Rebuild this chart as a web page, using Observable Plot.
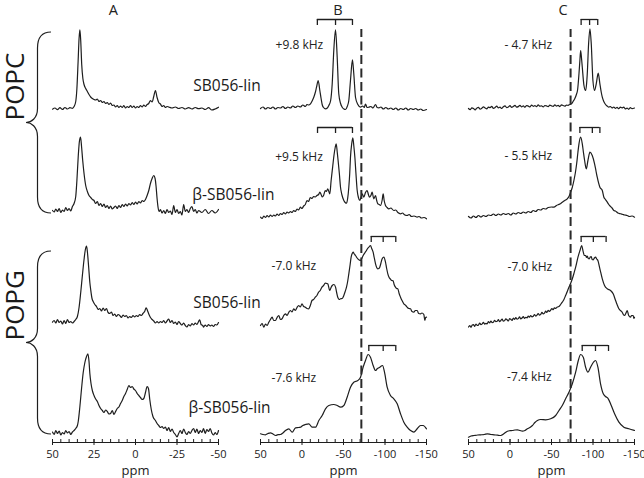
<!DOCTYPE html>
<html><head><meta charset="utf-8">
<script src="https://cdn.jsdelivr.net/npm/d3@7"></script>
<script src="https://cdn.jsdelivr.net/npm/@observablehq/plot@0.6"></script>
<style>
body{margin:0;background:#fff;}
#fig{position:relative;width:644px;height:478px;font-family:"Open Sans",sans-serif;}
#fig svg{position:absolute;top:0;}
</style></head><body><div id="fig"></div>
<script>
// ---------------- DATA ----------------
const panelTitles = ["A", "B", "C"];
const lipids = ["POPC", "POPG"];
const samples = ["SB056-lin", "β-SB056-lin", "SB056-lin", "β-SB056-lin"];
const splitB = ["+9.8 kHz", "+9.5 kHz", "-7.0 kHz", "-7.6 kHz"];
const splitC = ["- 4.7 kHz", "- 5.5 kHz", "-7.0 kHz", "-7.4 kHz"];
const ticksA = [50, 25, 0, -25, -50];
const ticksBC = [50, 0, -50, -100, -150];
const refPpmB = -71.5;
const refPpmC = -73;
const bracketB = [[-18.5, -40.4, -60.8], [-18.7, -40.4, -60.8], [-83.4, -97.8, -113], [-80.5, -97.8, -113]];
const bracketC = [[-85.7, -95.9, -105.7], [-84.2, -99.2, -108.3], [-85.7, -100.4, -115.8], [-87, -103, -118.7]];

// spectra: [ppm, intensity]
const specA_POPC_SB = [[50,1.3],[48.5,2.5],[47,0.8],[45.5,2.8],[44,1],[42.5,3],[41,1.5],[39.5,2.8],[38,2.2],[37,4],[36,9],[35.3,22],[34.6,48],[34,72],[33.5,80.7],[33,70],[32.4,46],[31.7,32],[31,26],[30,22],[29,19],[28,16],[27,13.5],[26,12],[25,11],[24,10.5],[23,11.5],[22,9],[21,10],[20,8],[19,9],[18,7],[17,8],[16,6],[15,7.5],[14,5],[13,5.5],[12,3.5],[11,5],[10,3],[9,4.5],[8,3],[7,5],[6,2.5],[5,4],[4,3],[3,5],[2,3],[1,4.5],[0,2.5],[-1,4],[-2,3],[-3,5],[-4,3.5],[-5,5.5],[-6,4],[-7,6],[-8,7],[-9,10],[-10,8.5],[-11,14],[-12,20],[-13,13],[-14,8],[-15,6.5],[-16,4],[-17,5],[-18,3],[-19,4],[-20,3.5],[-22,2.5],[-24,3.5],[-26,2],[-28,3],[-30,1.5],[-32,2.8],[-34,1.5],[-36,3],[-38,1.8],[-40,2.5],[-42,1],[-44,2.8],[-46,0.5],[-48,1.5],[-50,3.3]];
const specA_POPC_bSB = [[50,8],[49,6.5],[48,9.5],[47,7],[46,10],[45,6],[44,8.5],[43,7],[42,11],[41,8],[40,10],[39,7.5],[38,12],[37,15],[36,22],[35.3,38],[34.5,62],[33.8,77],[33.1,81.3],[32.5,72],[31.8,58],[31,45],[30,33],[29,27],[28,23],[27,21],[26,19],[25,18],[24,15],[23,17],[22,13],[21,15],[20,12],[19,14.5],[18,11],[17,13],[16,10],[15,12.5],[14,9.5],[13,11],[12,12.5],[11,10],[10,13],[9,11],[8,14],[7,12],[6,14.5],[5,12.5],[4,15],[3,13.5],[2,16],[1,14],[0,16.5],[-1,14.5],[-2,17],[-3,15.5],[-4,18],[-5,17],[-6,19],[-7,23],[-8,28],[-9,35],[-10,40],[-11,43],[-11.8,40],[-12.4,32],[-13,20],[-13.6,11],[-14.3,7],[-15,9],[-16,5.5],[-17,8],[-18,5],[-19,9],[-20,6],[-21,7.5],[-22,4],[-23,13],[-24,6],[-25,9],[-26,5],[-27,7],[-28,3.5],[-29,14],[-30,7],[-31,9],[-32,6],[-33,10],[-34,12],[-35,7],[-36,9],[-37,5.5],[-38,8],[-40,6],[-42,9],[-44,5],[-46,8],[-48,5.5],[-50,9]];
const specA_POPG_SB = [[50,5.3],[49,7],[48,4.5],[47,8],[46,5],[45,6.5],[44,3.5],[43,7],[42,4],[41,8],[40,5],[39,6],[38,4.5],[37,6],[36,8],[35,11],[34,20],[33,35],[32,52],[31,68],[30.2,78],[29.5,81.3],[29,76],[28.2,60],[27.5,45],[27,38],[26.2,29],[25.5,26],[24.5,23],[23.5,21],[22.5,18],[21.5,19],[20.5,16.5],[19.5,19.5],[18.5,17],[17.5,19],[16.5,15],[15.5,14],[14.5,15.5],[13.5,12],[12.5,13.5],[11.5,11],[10.5,13],[9.5,12],[8.5,10],[7.5,12.5],[6.5,11],[5.5,12],[4.5,9.5],[3.5,11],[2.5,10],[1.5,12],[0.5,10.5],[-0.5,12],[-1.5,11],[-2.5,13],[-3.5,12],[-4.5,14],[-5.5,16],[-6.4,19.7],[-7.2,17],[-8,13.5],[-9,10],[-10,8],[-11,6.5],[-12,4.5],[-13,6],[-14,4.5],[-15,6],[-16,5],[-17,7],[-18,4.5],[-19,6.5],[-20,8.5],[-21,5],[-22,7],[-23,4],[-24,5.5],[-25,3],[-26,6],[-27,4],[-28,2.5],[-29,4.5],[-30,2],[-31,0.5],[-32,3],[-33,1.5],[-34,4],[-35,2.5],[-36,4.5],[-37,3],[-38,6],[-38.7,7.7],[-39.5,3],[-40.5,2],[-41,0.3],[-42,2.5],[-43,1],[-44,3],[-45,1.5],[-46,2.5],[-47,1],[-48,3],[-49,2.5],[-50,5]];
const specA_POPG_bSB = [[50,4.5],[49,2],[48,6],[47,3],[46,5.5],[45,1.5],[44,4],[43,2.5],[42,6],[41,3.5],[40,5],[39,2],[38,4.5],[37,6],[36,8],[35,11],[34.5,15],[33.5,30],[32.5,48],[31.5,64],[30.5,74],[29.5,80],[28.7,82.7],[28,75],[27.5,63],[26.8,53],[26,46],[25,41],[24,37.5],[23,35],[22,31],[21,28],[20,26],[19,24],[18,26.5],[17,25],[16,22.5],[15,23],[14,26],[13,22],[12,25],[11,28],[10,29.5],[9,33],[8,36],[7,40],[6,43],[5,47],[4,51],[3,49],[2,50],[1,47.5],[0,46],[-1,43],[-2,41],[-3,39],[-4,37],[-5,38],[-6,44],[-7,50],[-7.8,48],[-8.6,37],[-9.5,27],[-10.5,20],[-12,16],[-13,13],[-14,11],[-15,9],[-16,10],[-17,8],[-18,9.5],[-19,6],[-20,9],[-21,5],[-22,7.5],[-23,4],[-24,2],[-25,-0.5],[-26,3],[-27,6],[-28,3],[-29,7.5],[-30,4],[-31,2],[-32,5],[-33,3],[-34,6],[-35,8],[-36,4],[-37,7.5],[-38,3],[-39,6],[-40,4],[-41,8],[-42,3],[-43,7],[-44,5],[-45,8],[-46,3.5],[-47,1.5],[-48,4],[-49,2],[-50,6]];

const specB_POPC_SB = [[50,2],[47,3.5],[44,1.5],[41,3],[38,2],[35,3.5],[32,1.5],[29,3],[26,2.5],[23,4],[20,2],[17,3.5],[14,2.5],[11,4.5],[8,3],[5,4.5],[2,3.5],[-1,5.5],[-4,4],[-6,6],[-8,5.5],[-10.2,6.7],[-12.5,10],[-14.2,13.3],[-16,18],[-17.5,23.3],[-19.5,30],[-21.5,20],[-23,12],[-24.3,6],[-26,3],[-28.3,1.7],[-30.5,2.5],[-32.3,5],[-34.5,10],[-36.4,26.7],[-38.3,60],[-40.4,80.7],[-42.4,53.3],[-44.3,16.7],[-46.5,7],[-48.4,3.3],[-50.5,1.5],[-52.4,1],[-54.5,4],[-56.4,10],[-58.4,30],[-60.8,50.7],[-62.4,36.7],[-64.5,13],[-67.3,6],[-70.5,3.3],[-73,4.5],[-75,3],[-76.5,6.5],[-78.5,3],[-80.5,3.3],[-83,4],[-85.5,2.5],[-88.6,6],[-90.5,3],[-92.6,2.7],[-95,3.5],[-98,1.5],[-101,3],[-104,1.5],[-107,2.5],[-110,1],[-113,2.5],[-116,0.5],[-119,2],[-122,1],[-125,2.5],[-128,0.5],[-131,2],[-134,1],[-137,2],[-140,0.5],[-143,1.5],[-146,0],[-150,1]];
const specB_POPC_bSB = [[50,1.3],[48,0],[46,2.5],[44,1],[42,3],[40,1.5],[38,3.5],[36,2],[34,3.5],[32,2.5],[30,4.5],[28,3],[26,5],[24,4],[22,6],[20,4.5],[18,6.5],[16,5.5],[14,7],[12,6],[10,8],[8,7],[6,9.5],[4,8.5],[2,11.3],[0,10],[-2,12.5],[-4,14],[-6,18],[-8,17],[-10,21],[-12,20],[-14,22],[-16,21.5],[-18,23],[-20,24],[-21.5,26.3],[-23,24],[-24.5,21.5],[-26,23],[-28,28],[-29.5,27],[-31,29.7],[-33.5,24.7],[-35.1,38],[-37,52],[-38.5,63],[-40,71],[-41.2,74.7],[-42.5,66],[-43.5,58],[-45,45],[-46.4,31.3],[-48,24],[-50.4,18],[-52,16],[-53.6,15.3],[-55,20],[-56.4,31.3],[-57.5,45],[-58.4,61.3],[-59.8,74],[-61.2,80.7],[-62.5,72],[-63.7,61.3],[-65,45],[-66.5,28],[-68,21],[-69.7,18],[-71,21],[-72.5,24.7],[-74.5,21.3],[-76.5,26],[-78.5,28],[-80,24],[-81.3,21.3],[-83,23],[-84.5,26.3],[-86.5,19.7],[-88.6,23],[-90,18],[-91.3,14.7],[-93,14],[-94.6,13],[-96.5,18],[-97.8,24.7],[-99,18],[-100.6,13],[-102.5,11],[-104.6,9.7],[-107,10.5],[-110.6,8],[-113,8.5],[-115.5,6],[-118.7,4.7],[-121,5.5],[-124,3.5],[-126.7,3],[-129,4],[-132,2],[-135,2.5],[-138.8,1.3],[-141,2],[-144,0.5],[-147,1],[-150,-0.3]];
const specB_POPG_SB = [[50,2],[48,4],[46,0.3],[44,3.5],[42,2],[40,5.3],[38,8],[36,10.3],[34,7],[32,7],[30,10],[28,12],[26,8],[24,8.7],[22,12],[20,13.7],[18,12],[16,15],[14,17],[12,15.5],[10,18.7],[8,17],[6,20],[4,22],[2,20.5],[0,23.7],[-2,21],[-4,20.3],[-6,19],[-8,18.7],[-10,22],[-12,27],[-14,28],[-16,30.3],[-18,32],[-20,35.3],[-22,37],[-24,40.3],[-26,42],[-28,44.3],[-30,44],[-31,43.7],[-33.5,37],[-35,40],[-36.4,42],[-38.5,43],[-40.4,40.3],[-42,34],[-43.2,30],[-45,28],[-46.4,28.7],[-48.5,29],[-50.4,32],[-52,36],[-53.6,40.3],[-55,46],[-56.4,53.7],[-58,63],[-59.2,70.3],[-60.5,74],[-61.6,75.3],[-63,73.5],[-64.5,72],[-66,70],[-67.3,68.7],[-69,67.5],[-70.5,67],[-72,69],[-73.7,72],[-76,75],[-77.7,77],[-79,79],[-80.5,80.3],[-82.5,82],[-84,79],[-85.7,75.3],[-87,70],[-88.6,63.7],[-90,60],[-91.3,58.7],[-92.5,59],[-93.7,60.3],[-95,64],[-96.6,68.7],[-98.6,70.3],[-100.6,65.3],[-102,59],[-103.4,53.7],[-105,50],[-106.6,48.3],[-108,47],[-109.8,46.7],[-111,43],[-112.6,40.3],[-114,39],[-115.4,38.7],[-117,34],[-118.7,30.3],[-120.5,27],[-122.7,23.7],[-125,22],[-126.7,20.3],[-128.5,19],[-130.7,18.7],[-132.5,16],[-134.7,15.3],[-136.5,17],[-138.8,17],[-140.5,14],[-142.8,13.7],[-144.5,14.5],[-146.8,13],[-148,7],[-149,10],[-150,10.3]];
const specB_POPG_bSB = [[50,2.7],[47,2],[44,1.7],[41,3],[38,3.7],[35,2.5],[31.9,1],[29,1.8],[25.9,2],[23,3.5],[19.9,6],[15.9,7.7],[11.8,4.3],[7.8,8.7],[4,9],[1.8,9.3],[-1,11],[-4.2,12],[-8.2,12.7],[-12.2,9.3],[-16.3,9.3],[-20.3,16],[-24.3,21],[-28.3,27.7],[-32.3,31],[-38.3,32],[-42.4,31],[-46.4,29.3],[-50.4,31],[-54.4,39.3],[-58.4,49.3],[-62.4,54.3],[-67.3,56],[-70.5,59.3],[-73.7,69.3],[-76.5,76],[-79.7,82],[-82.5,79.3],[-85.7,71],[-88.6,66],[-90.6,67.7],[-93.7,69.3],[-97,71],[-99.4,64.3],[-102.6,49.3],[-106.6,41],[-110.6,37.7],[-114.7,32.7],[-118.7,22.7],[-122.7,14.3],[-126.7,9.3],[-130.7,6],[-134.7,4.3],[-138.8,7.7],[-142.8,11],[-146,11],[-150,7.7]];

const specC_POPC_SB = [[50,2],[48,0.8],[46,2.6],[44,2.1],[42,0.6],[40,2.4],[38,3.2],[36,1.4],[34,2.2],[32,3.6],[30,2.5],[28,1.6],[26,3.4],[24,2.9],[22,4.1],[20,2.2],[18,3],[16,4.4],[14,2.6],[12,3.3],[10,2],[8,3.8],[6,4.6],[4,2.9],[2,3.5],[0,4.8],[-2,3.1],[-4,4],[-6,5.2],[-8,3.4],[-10,3.9],[-12,5.1],[-14,3.7],[-16,4.6],[-18,3.3],[-20,5],[-22,4.4],[-24,3.6],[-26,5.4],[-28,4.2],[-30,4.9],[-32,3.8],[-34,5.6],[-36,4.3],[-38,4.7],[-40,3.5],[-42,5],[-44,4.6],[-46,3.9],[-48,5.4],[-50,4.6],[-52,4.1],[-54,5.7],[-56,4.4],[-58,5.1],[-60,3.9],[-62,5.6],[-64,5],[-66,4.3],[-68,5.3],[-70,5.2],[-72,6],[-74,6.7],[-76,9],[-78,11.7],[-80,16],[-81.5,21],[-83.1,36.7],[-84.2,50],[-85.1,60],[-86.2,52],[-87.1,43.3],[-89.1,25],[-91.1,20],[-92.2,26],[-93.1,36.7],[-94.7,66.7],[-96.3,81.7],[-97.9,66.7],[-99.9,30],[-101.9,20],[-103.9,26.7],[-106.3,37.3],[-108.3,26.7],[-110,18],[-111.2,13.3],[-113,9],[-115.1,6],[-117,4.5],[-119.1,3.3],[-121,4],[-123,2.5],[-125,3.5],[-127,2.2],[-129,3.1],[-131,1.8],[-133,3.3],[-135,2.6],[-137,3.4],[-139,1.5],[-141,2.4],[-143,1.2],[-145,2.8],[-147,1.9],[-150,2.5]];
const specC_POPC_bSB = [[50,2],[47,0.5],[44,2.5],[41,1],[38,3],[35,1.5],[32,3],[29,2],[26,3.5],[23,3],[20,4.5],[17,3],[14,4.5],[11,3.5],[8,5],[5,4],[2,5],[-1,3.5],[-4,5.5],[-7,4.5],[-10,6],[-13,5],[-16,6.5],[-19,5.5],[-22,7],[-25,6],[-28,8],[-31,7],[-34,9],[-37,8.5],[-40,10],[-43,9.5],[-46,11],[-50,11.5],[-53,11.3],[-56,13],[-60,14.5],[-63,16.3],[-66,18],[-69,19.7],[-71,22],[-73,26.3],[-75,31],[-77,38],[-78.8,46],[-80.3,54.7],[-81.8,66],[-83.1,74.7],[-85.1,81.3],[-87.1,74.7],[-88.5,66],[-89.9,58],[-91.9,49.7],[-93.9,58],[-96.3,66.3],[-99.1,63],[-101.9,54.7],[-103.5,48],[-105.1,41.3],[-108.3,31.3],[-111.2,28],[-113.1,21.3],[-115,19],[-117.2,16.3],[-119,14],[-121.1,12],[-123,10.5],[-125.1,8],[-127,7.5],[-130,5.5],[-133.2,4.7],[-136,4],[-138,3.5],[-141.2,3],[-144,2],[-147,2.5],[-150,1.3]];
const specC_POPG_SB = [[50,0.5],[48.5,1.8],[47,0.2],[45.5,2.5],[44,2.9],[42.5,1.2],[41,3.5],[39.5,2.1],[38,2.4],[36.5,4.4],[35,2.8],[33.5,3.6],[32,5.2],[30.5,3.4],[29,4.1],[27.5,3.7],[26,5.9],[24.5,4.6],[23,6.5],[21.5,4.8],[20,5.2],[18.5,7.1],[17,5.9],[15.5,6.2],[14,7.8],[12.5,5.8],[11,7],[9.5,8.3],[8,6.4],[6.5,6.9],[5,8.6],[3.5,7.7],[2,6.5],[0.5,8.8],[-1,8.2],[-2.5,7.1],[-4,9.4],[-5.5,8.1],[-7,9.9],[-8.5,8.4],[-10,8.9],[-11.5,10.6],[-13,8.6],[-14.5,9.5],[-16,10.9],[-17.5,9.2],[-19,10.2],[-20.5,9.6],[-22,11.5],[-23.5,10.3],[-25,12],[-26.5,10.6],[-28,11.2],[-29.5,13],[-31,11.4],[-32.5,12.4],[-34,14],[-35.5,12.3],[-37,13.2],[-38.5,15.1],[-40,13.6],[-41.5,14.4],[-43,16.3],[-44.5,15],[-46,17.2],[-47.5,16],[-49,17.4],[-50.5,19],[-52,17.8],[-53.5,19.6],[-55,19.2],[-57,20.5],[-59,21],[-61,23],[-63,25.3],[-65,28],[-67,32],[-69,36],[-71,40.3],[-73,44],[-75.1,48.7],[-77,54],[-79.1,60.3],[-81.9,70.3],[-84.3,77],[-86.3,82],[-88.3,75.3],[-89.5,72],[-91.1,72],[-92.2,70],[-93.1,71.5],[-94.3,69],[-95.5,68.7],[-96.7,70.5],[-97.9,71],[-99,68],[-100.3,67.7],[-101.7,69.5],[-103.1,70.3],[-104.5,68.5],[-105.9,67],[-108.3,58.7],[-111.2,48.7],[-113.9,42],[-117.2,38.7],[-121.1,37],[-124.3,33.7],[-127.2,27],[-129,23],[-131.2,18.7],[-133,17],[-135.2,15.3],[-136.5,13],[-138,12],[-139.5,14],[-141.2,17],[-143,12],[-145.2,10.3],[-146.5,12],[-148.4,12],[-149.2,9],[-150,10.3]];
const specC_POPG_bSB = [[50,-0.7],[47,0.5],[43.2,1],[39,1.5],[35.2,1.7],[31,2],[27.2,2.7],[23,2],[19.2,1.7],[15,1.3],[11.2,1],[7,3],[3.1,5.3],[0,5.8],[-2.9,6],[-6,6.5],[-8.9,6.7],[-12,6],[-14.9,5.3],[-18,6],[-21,7.7],[-24,9],[-27,11],[-30,14],[-33,16],[-37,17],[-43,16.7],[-49,17.7],[-55,21],[-59,26],[-63,31],[-67,37.7],[-71,44.3],[-75.1,52.7],[-79.1,64.3],[-82.3,76],[-85.1,82],[-88.3,79.3],[-91.1,69.3],[-93.9,64.3],[-97.1,69.3],[-100.3,74],[-103.1,76],[-105.9,69.3],[-109.1,52.7],[-112.4,42.7],[-115.1,40],[-118.4,37.7],[-122,31],[-126,22.7],[-131.2,14.3],[-137.2,9.3],[-143.2,7.7],[-150,6]];

// ---------------- LAYOUT ----------------
const H = 478, MB = 36, TOP = H - MB;           // y units: 1 per px
const rowOffset = [332, 224, 115, 6];            // stacking offset of each trace row
const ink = "#1e1e1e";
const font = "'Open Sans', sans-serif";

function makePanel(cfg) {
  const rows = cfg.spectra.flatMap((s, r) => s.map(([ppm, v]) => ({ppm, y: v + rowOffset[r], row: r})));
  const minor = d3.range(cfg.domain[0], cfg.domain[1] - 1e-6, -cfg.minorStep);
  const marks = [
    Plot.line(rows, {x: "ppm", y: "y", z: "row", curve: "monotone-x", stroke: ink, strokeWidth: 1.2}),
    Plot.ruleY([0], {stroke: ink, strokeWidth: 1}),
    Plot.ruleX(minor, {x: d => d, y1: 0, y2: 3, stroke: ink, strokeWidth: 1}),
    Plot.ruleX(cfg.ticks, {x: d => d, y1: -3, y2: 3, stroke: ink, strokeWidth: 1}),
    Plot.axisX(cfg.ticks, {tickSize: 0, tickPadding: 7.5, fontSize: 11, label: null, tickFormat: d => String(d), fill: "#222"}),
    Plot.text(["ppm"], {frameAnchor: "bottom", dy: 28, lineAnchor: "middle", fontSize: 13, fill: "#222"}),
    Plot.text([cfg.title], {x: () => cfg.titlePpm, y: () => TOP - 10, fontSize: 14.5, fill: "#222"}),
    ...(cfg.extra || [])
  ];
  const p = Plot.plot({
    width: cfg.width, height: H,
    marginLeft: cfg.mL, marginRight: cfg.mR, marginTop: 0, marginBottom: MB,
    x: {domain: cfg.domain},
    y: {domain: [0, TOP], axis: null},
    style: {background: "transparent", overflow: "visible", fontFamily: font},
    marks
  });
  p.style.left = cfg.left + "px";
  document.getElementById("fig").appendChild(p);
  return p;
}

function bracketMarks(br) {
  const tbl = br.map((b, r) => ({a: b[0], m: b[1], c: b[2], y: 91 + rowOffset[r]}));
  const tks = tbl.flatMap(d => [d.a, d.m, d.c].map(x => ({x, y: d.y})));
  return [
    Plot.ruleY(tbl, {y: "y", x1: "a", x2: "c", stroke: ink, strokeWidth: 1.3}),
    Plot.ruleX(tks, {x: "x", y1: d => d.y - 6, y2: "y", stroke: ink, strokeWidth: 1.3})
  ];
}

function dashMark(ppm) {
  return Plot.ruleX([ppm], {x: d => d, y1: 0, y2: TOP - 29, stroke: "#2a2a2a", strokeWidth: 2, strokeDasharray: "9,4.5"});
}

// Panel A
const sampleLabelPos = [[-34.8, 24.3], [-34.2, 23], [-34.8, 24.7], [-31.9, 28.5]];
const sampleTbl = samples.map((s, r) => ({s, x: sampleLabelPos[r][0], y: sampleLabelPos[r][1] + rowOffset[r]}));
const lipidTbl = lipids.map((l, i) => ({l, y: [TOP - 120, TOP - 340][i]}));
const pA = makePanel({
  spectra: [specA_POPC_SB, specA_POPC_bSB, specA_POPG_SB, specA_POPG_bSB],
  domain: [50, -50], minorStep: 5, ticks: ticksA, width: 240, left: 0, mL: 52, mR: 22,
  title: panelTitles[0], titlePpm: 13.3,
  extra: [
    Plot.text(sampleTbl, {x: "x", y: "y", text: "s", textAnchor: "start", fontSize: 15.5, fill: "#1a1a1a"}),
    Plot.text(lipidTbl, {frameAnchor: "left", y: "y", text: "l", dx: -37, rotate: -90, fontSize: 26, fill: "#1a1a1a"})
  ]
});

// Panel B
const khzPosB = [[-25.5, 65.5], [-25.1, 61.8], [-17.1, 61.5], [-17.1, 58.1]];
const khzB = splitB.map((s, r) => ({s, x: khzPosB[r][0], y: khzPosB[r][1] + rowOffset[r]}));
makePanel({
  spectra: [specB_POPC_SB, specB_POPC_bSB, specB_POPG_SB, specB_POPG_bSB],
  domain: [50, -150], minorStep: 10, ticks: ticksBC, width: 200, left: 240, mL: 20, mR: 14,
  title: panelTitles[1], titlePpm: -43.4,
  extra: [dashMark(refPpmB), ...bracketMarks(bracketB),
    Plot.text(khzB, {x: "x", y: "y", text: "s", textAnchor: "end", fontSize: 12, fill: "#222"})]
});

// Panel C
const khzPosC = [[-50.8, 65.5], [-50.8, 62.5], [-50.8, 60.1], [-50.2, 59.1]];
const khzC = splitC.map((s, r) => ({s, x: khzPosC[r][0], y: khzPosC[r][1] + rowOffset[r]}));
makePanel({
  spectra: [specC_POPC_SB, specC_POPC_bSB, specC_POPG_SB, specC_POPG_bSB],
  domain: [50, -150], minorStep: 10, ticks: ticksBC, width: 204, left: 440, mL: 28, mR: 10,
  title: panelTitles[2], titlePpm: -63.9,
  extra: [dashMark(refPpmC), ...bracketMarks(bracketC),
    Plot.text(khzC, {x: "x", y: "y", text: "s", textAnchor: "end", fontSize: 12, fill: "#222"})]
});

// Curly braces grouping the lipid rows (positions from the y scale)
const ys = pA.scale("y");
function bracePath(y0, y1, xEnd, xStem, xTip) {
  const ym = (y0 + y1) / 2;
  return `M${xEnd},${y0} C${xStem + 5},${y0} ${xStem},${y0 + 5} ${xStem},${y0 + 16}` +
    ` L${xStem},${ym - 14} C${xStem},${ym - 4} ${xTip + 5},${ym} ${xTip},${ym}` +
    ` C${xTip + 5},${ym} ${xStem},${ym + 4} ${xStem},${ym + 14}` +
    ` L${xStem},${y1 - 16} C${xStem},${y1 - 5} ${xStem + 5},${y1} ${xEnd},${y1}`;
}
const braceSpans = [[rowOffset[0] + 78, rowOffset[1] + 5], [rowOffset[2] + 76, rowOffset[3] + 2]];
d3.select(pA).append("g").selectAll("path").data(braceSpans).join("path")
  .attr("d", d => bracePath(ys.apply(d[0]), ys.apply(d[1]), 51, 37.5, 26))
  .attr("fill", "none").attr("stroke", ink).attr("stroke-width", 1.2);
</script></body></html>
